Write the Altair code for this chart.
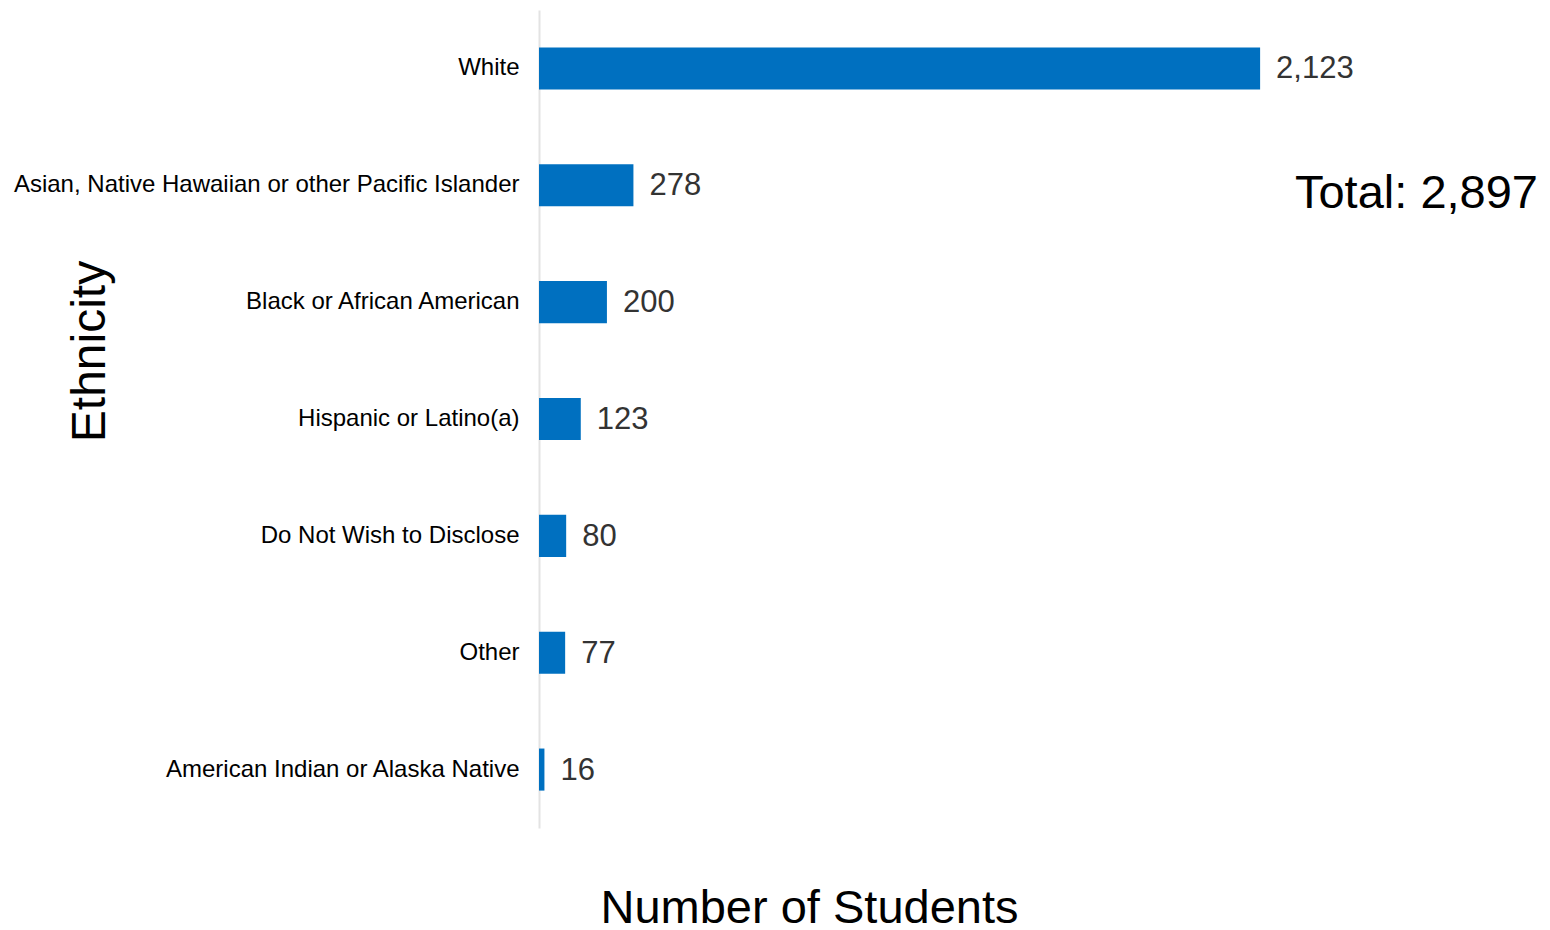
import altair as alt
import pandas as pd

categories = [
    "White",
    "Asian, Native Hawaiian or other Pacific Islander",
    "Black or African American",
    "Hispanic or Latino(a)",
    "Do Not Wish to Disclose",
    "Other",
    "American Indian or Alaska Native",
]
counts = [2123, 278, 200, 123, 80, 77, 16]
total_label = "Total: 2,897"

df = pd.DataFrame({"Ethnicity": categories, "Count": counts})

FONT = "Liberation Sans"
xscale = alt.Scale(domain=[0, 2947], nice=False, zero=True)
yscale = alt.Scale(paddingInner=0.64, paddingOuter=0.32)

base = alt.Chart(df)

bars = base.mark_bar(color="#0070C0").encode(
    x=alt.X(
        "Count:Q",
        scale=xscale,
        axis=alt.Axis(
            labels=False, ticks=False, domain=False, grid=False,
            title="Number of Students", titleFont=FONT, titleFontSize=47,
            titleFontWeight="normal", titleColor="#000000",
            titleX=270, titleY=94, titleBaseline="alphabetic",
        ),
    ),
    y=alt.Y(
        "Ethnicity:N",
        sort=categories,
        scale=yscale,
        axis=alt.Axis(
            ticks=False, grid=False, domain=True, domainColor="#e3e3e3",
            domainWidth=2, labelFont=FONT, labelFontSize=24,
            labelColor="#000000", labelPadding=20, labelLimit=700,
            title="Ethnicity", titleFont=FONT, titleFontSize=48,
            titleFontWeight="normal", titleColor="#000000",
            titleX=-435, titleY=341, titleBaseline="alphabetic",
            titleAlign="center", titleAngle=270,
        ),
    ),
)

labels = base.mark_text(
    align="left", baseline="middle", dx=16, dy=1,
    font=FONT, fontSize=31, color="#333333",
).encode(
    x=alt.X("Count:Q", scale=xscale),
    y=alt.Y("Ethnicity:N", sort=categories, scale=yscale),
    text=alt.Text("Count:Q", format=","),
)

total = alt.Chart(pd.DataFrame({"t": [total_label]})).mark_text(
    align="right", baseline="alphabetic", font=FONT, fontSize=47, color="#000000",
).encode(
    x=alt.value(999),
    y=alt.value(198),
    text="t:N",
)

chart = (
    alt.layer(bars, labels, total)
    .properties(
        width=1001,
        height=818,
        autosize="none",
        padding={"left": 531, "top": 2, "right": 0, "bottom": 102},
    )
    .configure_view(stroke=None)
)

chart.save("out.html", embed_options={"renderer": "svg", "actions": False})
